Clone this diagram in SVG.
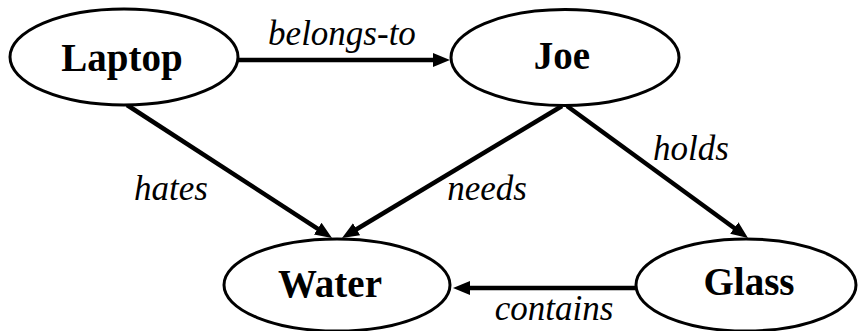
<svg xmlns="http://www.w3.org/2000/svg" width="858" height="331" viewBox="0 0 858 331">
<style>
.node{fill:#fff;stroke:#000;stroke-width:3}
.nlab{font-family:"Liberation Serif","Times New Roman",serif;font-weight:bold;font-size:39px;fill:#000;text-anchor:middle}
.edge{stroke:#000;stroke-width:4.5;fill:none;marker-end:url(#arr)}
.elab{font-family:"Liberation Serif","Times New Roman",serif;font-style:italic;font-size:35px;fill:#000;text-anchor:middle}
</style>
<defs>
<marker id="arr" markerUnits="userSpaceOnUse" markerWidth="18" markerHeight="16" refX="2" refY="8" orient="auto">
<path d="M0,1 L17,8 L0,15 z" fill="#000"/>
</marker>
</defs>
<g id="connectors">
<line class="edge" x1="239" y1="60" x2="435" y2="60"/>
<line class="edge" x1="127" y1="105" x2="319.4" y2="229.8"/>
<line class="edge" x1="562" y1="106" x2="354.9" y2="230.3"/>
<line class="edge" x1="567" y1="106" x2="735.9" y2="229.2"/>
<line class="edge" x1="635" y1="288" x2="468" y2="288"/>
<text class="elab" x="342" y="45">belongs-to</text>
<text class="elab" x="171" y="200">hates</text>
<text class="elab" x="487" y="200">needs</text>
<text class="elab" x="691" y="160">holds</text>
<text class="elab" x="554" y="320">contains</text>
</g>
<g id="laptop">
<ellipse class="node" cx="124" cy="57" rx="114" ry="48"/>
<text class="nlab" x="122" y="71">Laptop</text>
</g>
<g id="joe">
<ellipse class="node" cx="565" cy="57.5" rx="114" ry="48"/>
<text class="nlab" x="562" y="69">Joe</text>
</g>
<g id="water">
<ellipse class="node" cx="337" cy="285" rx="113" ry="46"/>
<text class="nlab" x="330" y="297">Water</text>
</g>
<g id="glass">
<ellipse class="node" cx="746" cy="285" rx="110" ry="46"/>
<text class="nlab" x="749" y="295">Glass</text>
</g>
</svg>
